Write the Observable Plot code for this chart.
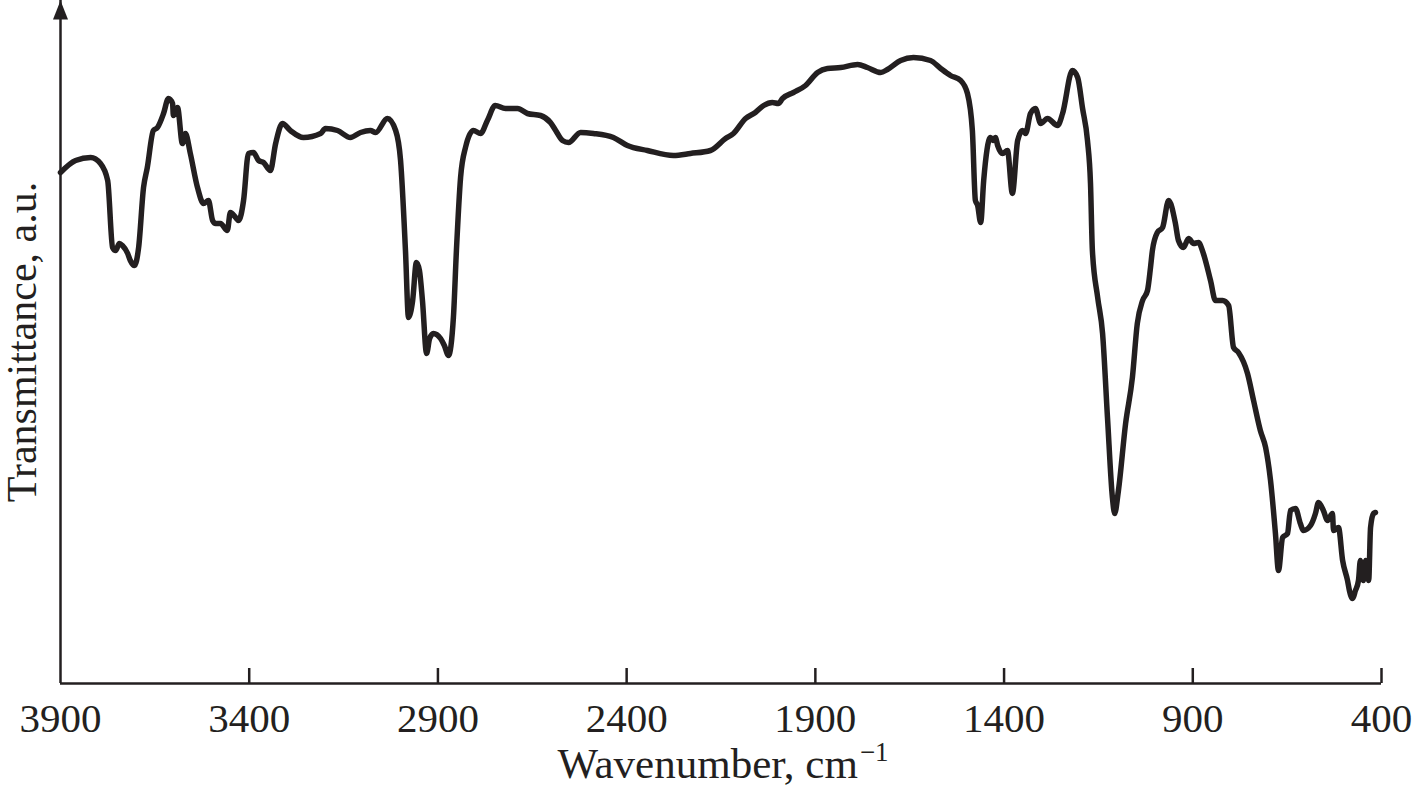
<!DOCTYPE html>
<html>
<head>
<meta charset="utf-8">
<script src="https://cdn.jsdelivr.net/npm/d3@7"></script>
<script src="https://cdn.jsdelivr.net/npm/@observablehq/plot@0.6"></script>
<style>
  html, body { margin: 0; padding: 0; background: #ffffff; }
  #chart { width: 1413px; height: 791px; }
</style>
</head>
<body>
<div id="chart"></div>
<script>
// Wavenumber, cm^-1
const wavenumbers = [
  3900, 3860, 3820, 3794, 3775, 3762, 3754, 3744, 3736, 3722,
  3715, 3704, 3693, 3680, 3670, 3654, 3643, 3627, 3614, 3603,
  3601, 3590, 3577, 3569, 3556, 3537, 3521, 3508, 3497, 3489,
  3476, 3458, 3450, 3436, 3428, 3415, 3402, 3389, 3375, 3362,
  3344, 3330, 3312, 3291, 3256, 3211, 3198, 3166, 3132, 3105,
  3079, 3065, 3034, 3012, 2999, 2986, 2978, 2967, 2957, 2949,
  2941, 2930, 2922, 2912, 2893, 2883, 2872, 2859, 2851, 2840,
  2827, 2806, 2787, 2769, 2748, 2721, 2689, 2663, 2628, 2602,
  2588, 2570, 2554, 2522, 2488, 2435, 2398, 2345, 2276, 2231,
  2178, 2138, 2117, 2085, 2059, 2037, 2014, 1998, 1987, 1958,
  1926, 1894, 1868, 1833, 1788, 1762, 1727, 1709, 1674, 1640,
  1595, 1568, 1542, 1515, 1497, 1484, 1476, 1470, 1462, 1454,
  1436, 1428, 1423, 1417, 1404, 1391, 1378, 1364, 1351, 1343,
  1330, 1317, 1303, 1285, 1258, 1245, 1219, 1205, 1192, 1179,
  1171, 1166, 1152, 1139, 1126, 1113, 1107, 1097, 1078, 1060,
  1047, 1033, 1020, 1012, 1007, 994, 980, 964, 946, 938,
  925, 911, 898, 885, 872, 853, 840, 821, 805, 792,
  779, 755, 739, 721, 707, 694, 681, 673, 662, 649,
  641, 628, 615, 607, 588, 575, 567, 554, 543, 530,
  527, 514, 503, 490, 485, 477, 469, 461, 456, 448,
  442, 434, 429, 421, 416
];
// Transmittance, a.u.
const transmittance = [
  511, 523, 526, 520, 503, 436, 433, 440, 438, 430,
  423, 418, 436, 496, 516, 553, 556, 570, 585, 580,
  568, 576, 540, 550, 530, 496, 480, 483, 463, 460,
  460, 453, 471, 466, 463, 483, 530, 531, 523, 521,
  513, 540, 560, 553, 546, 550, 555, 553, 546, 551,
  553, 551, 565, 553, 523, 433, 366, 383, 421, 413,
  383, 330, 345, 350, 345, 338, 328, 366, 433, 506,
  536, 553, 550, 563, 578, 575, 575, 570, 568, 561,
  553, 543, 541, 551, 550, 546, 538, 533, 528, 530,
  533, 545, 550, 565, 571, 578, 581, 580, 585, 591,
  598, 611, 615, 616, 619, 616, 611, 614, 623, 626,
  623, 615, 608, 603, 590, 553, 483, 478, 461, 503,
  546, 543, 546, 538, 530, 533, 490, 543, 553, 550,
  570, 575, 560, 565, 558, 570, 613, 606, 575, 543,
  500, 433, 386, 350, 266, 186, 170, 193, 260, 306,
  360, 383, 393, 416, 433, 451, 456, 483, 460, 443,
  436, 445, 440, 441, 430, 403, 383, 383, 378, 336,
  331, 310, 283, 253, 236, 203, 150, 113, 146, 150,
  173, 175, 160, 153, 158, 170, 181, 173, 163, 170,
  153, 156, 123, 103, 93, 85, 93, 103, 123, 103,
  123, 103, 156, 170, 171
];
const xTicks = [3900, 3400, 2900, 2400, 1900, 1400, 900, 400];
const tickMarks = [3400, 2900, 2400, 1900, 1400, 900, 400];
const xLabel = "Wavenumber, cm";
const xLabelSup = "\u22121";
const yLabel = "Transmittance, a.u.";

const ink = "#231f20";
const spectrum = wavenumbers.map((w, i) => ({w, t: transmittance[i]}));

const arrowHead = {
  draw(context) {
    context.moveTo(0, 0);
    context.lineTo(7.5, 19);
    context.lineTo(-7.5, 19);
    context.closePath();
  }
};

const plot = Plot.plot({
  width: 1413,
  height: 791,
  marginLeft: 60,
  marginRight: 32,
  marginTop: 0,
  marginBottom: 108,
  style: {fontFamily: "'Liberation Serif', 'Times New Roman', serif", color: ink, background: "#ffffff"},
  x: {domain: [3900, 400]},
  y: {domain: [0, 683], axis: null},
  marks: [
    Plot.ruleY([0], {stroke: ink, strokeWidth: 2.5}),
    Plot.ruleX([3900], {stroke: ink, strokeWidth: 2.5}),
    Plot.ruleX(tickMarks, {x: d => d, y1: 0, y2: 15, stroke: ink, strokeWidth: 2.5}),
    Plot.dot([{x: 3900, y: 683}], {x: "x", y: "y", symbol: arrowHead, fill: ink, stroke: "none"}),
    Plot.axisX({ticks: xTicks, tickSize: 0, tickPadding: 19, fontSize: 41, tickFormat: d => String(d), label: null}),
    Plot.line(spectrum, {x: "w", y: "t", curve: "monotone-x", stroke: ink, strokeWidth: 5.5, strokeLinejoin: "round", strokeLinecap: "round"}),
    Plot.text([yLabel], {frameAnchor: "left", dx: -38, rotate: -90, text: d => d, fontSize: 42, fill: ink, textAnchor: "middle", lineAnchor: "middle"}),
    Plot.text([xLabel], {frameAnchor: "bottom", dy: 94, dx: 2, text: d => d, fontSize: 43, fill: ink, textAnchor: "middle", lineAnchor: "bottom"})
  ]
});

// superscript on axis label
d3.select(plot).selectAll("text").filter(function () { return this.textContent === xLabel; })
  .each(function () {
    d3.select(this).append("tspan").attr("dx", "2").attr("dy", "-17").attr("font-size", "27px").text(xLabelSup);
  });

document.getElementById("chart").appendChild(plot);
</script>
</body>
</html>
